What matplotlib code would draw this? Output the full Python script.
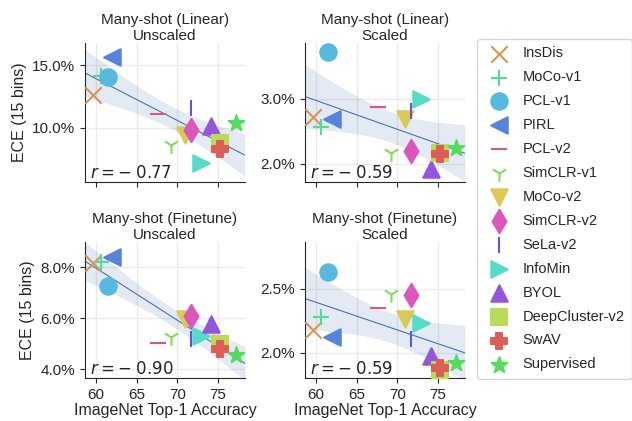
import numpy as np
import seaborn as sns
from matplotlib import pyplot as plt
from matplotlib.ticker import FuncFormatter

# Methods, markers and ImageNet accuracy (x).
methods = ['InsDis', 'MoCo-v1', 'PCL-v1', 'PIRL', 'PCL-v2', 'SimCLR-v1', 'MoCo-v2',
           'SimCLR-v2', 'SeLa-v2', 'InfoMin', 'BYOL', 'DeepCluster-v2', 'SwAV', 'Supervised']
markers = ['x', '+', 'o', '<', '_', '1', 'v', 'd', '|', '>', '^', 's', 'P', '*']
hue_idx = [1, 6, 8, 9, 14, 4, 2, 13, 10, 7, 11, 3, 0, 5]
accuracy = [59.6, 60.6, 61.5, 62.0, 67.6, 69.2, 71.0, 71.7, 71.7, 72.9, 74.1, 75.2, 75.3, 77.2]

# ECE values (%), one list per panel.
ece_linear_unscaled = [12.6, 14.1, 14.07, 15.66, 11.07, 8.6, 9.4, 9.8, 11.55, 7.16, 10.1, 8.8, 8.28, 10.4]
ece_linear_scaled = [2.72, 2.57, 3.72, 2.69, 2.87, 2.16, 2.69, 2.19, 2.82, 3.0, 1.92, 2.16, 2.15, 2.25]
ece_finetune_unscaled = [8.18, 8.22, 7.28, 8.42, 5.04, 5.27, 5.99, 6.09, 5.2, 5.29, 5.76, 4.98, 4.81, 4.55]
ece_finetune_scaled = [2.18, 2.28, 2.63, 2.125, 2.35, 2.46, 2.26, 2.45, 2.11, 2.23, 1.97, 1.865, 1.88, 1.92]

titles = ['Many-shot (Linear)\nUnscaled', 'Many-shot (Linear)\nScaled',
          'Many-shot (Finetune)\nUnscaled', 'Many-shot (Finetune)\nScaled']
r_labels = [r'$r=-\;0.77$', r'$r=-\;0.59$', r'$r=-\;0.90$', r'$r=-\;0.59$']
yticks = [[10, 15], [2, 3], [4, 6, 8], [2.0, 2.5]]
ylims = [(5.67, 16.75), (1.72, 3.86), (3.65, 9.0), (1.80, 2.867)]
xticks = [60, 65, 70, 75]

sns.set_style('ticks')
plt.rcParams['font.family'] = ['Liberation Sans', 'DejaVu Sans']
plt.rcParams['mathtext.fontset'] = 'dejavusans'
palette = sns.color_palette('hls', 15)

fig = plt.figure(figsize=(6.32, 4.21), dpi=100)
positions = [[0.1345, 0.5677, 0.253, 0.330], [0.4826, 0.5677, 0.253, 0.330],
             [0.1345, 0.1021, 0.253, 0.323], [0.4826, 0.1021, 0.253, 0.323]]
panels = [ece_linear_unscaled, ece_linear_scaled, ece_finetune_unscaled, ece_finetune_scaled]

x = np.array(accuracy)
xs = np.linspace(58.66, 78.3, 100)
for k, (pos, ece) in enumerate(zip(positions, panels)):
    ax = fig.add_axes(pos)
    y = np.array(ece)
    ax.grid(True, color='#ebebeb', linewidth=1, zorder=0)

    # Linear fit with 95% confidence band.
    b, a = np.polyfit(x, y, 1)
    resid = y - (a + b * x)
    s = np.sqrt(np.sum(resid ** 2) / (len(x) - 2))
    se = s * np.sqrt(1 / len(x) + (xs - x.mean()) ** 2 / np.sum((x - x.mean()) ** 2))
    yfit = a + b * xs
    ax.fill_between(xs, yfit - 2.179 * se, yfit + 2.179 * se, color='#4c72b0', alpha=0.15, lw=0, zorder=1)
    ax.plot(xs, yfit, color='#4c72b0', lw=0.8, zorder=2)

    for i, m in enumerate(methods):
        ax.scatter(accuracy[i], ece[i], marker=markers[i], s=140, color=palette[hue_idx[i]],
                   linewidths=1.5, label=m if k == 0 else None, zorder=3)

    ax.set_xlim(58.66, 78.3)
    ax.set_ylim(*ylims[k])
    ax.set_xticks(xticks)
    ax.set_yticks(yticks[k])
    ax.yaxis.set_major_formatter(FuncFormatter(lambda v, p: f'{v:.1f}%'))
    ax.tick_params(axis='both', labelsize=11, colors='#262626')
    ax.set_title(titles[k], fontsize=11, linespacing=1.15, pad=1.5)
    ax.text(0.03, 0.03, r_labels[k], transform=ax.transAxes, fontsize=12)
    if k < 2:
        ax.set_xticklabels([])
    else:
        ax.set_xlabel('ImageNet Top-1 Accuracy', fontsize=11.5, labelpad=1)
    if k % 2 == 0:
        ax.set_ylabel('ECE (15 bins)', fontsize=11.5)
    sns.despine(ax=ax)

fig.legend(loc='upper left', bbox_to_anchor=(0.755, 0.907), fontsize=10.5, borderaxespad=0,
           labelspacing=0.68, handletextpad=0.6, borderpad=0.5, frameon=True)

plt.savefig('out.png', dpi=100)
